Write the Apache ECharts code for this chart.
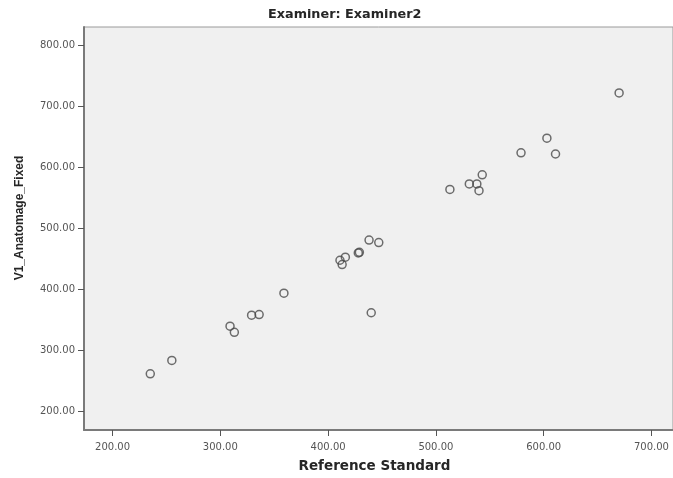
<!DOCTYPE html>
<html>
<head>
<meta charset="utf-8">
<script src="https://cdn.jsdelivr.net/npm/echarts@6/dist/echarts.min.js"></script>
<style>html,body{margin:0;padding:0;background:#fff}#c{width:673px;height:478px}</style>
</head>
<body>
<div id="c"></div>
<script>
const titleText = 'Examiner: Examiner2';
const xName = 'Reference Standard';
const yName = 'V1_Anatomage_Fixed';
const xTicks = [200, 300, 400, 500, 600, 700];
const yTicks = [200, 300, 400, 500, 600, 700, 800];
const refStandard = [235, 255, 309, 313, 329, 336, 359, 440, 411, 416, 413, 428, 429, 438, 447, 513, 531, 538, 543, 540, 579, 603, 611, 670];
const anatomage  = [262, 284, 340, 330, 358, 359, 394, 362, 448, 453, 441, 460, 461, 481, 477, 564, 573, 573, 588, 562, 624, 648, 622, 722];

const points = refStandard.map((v, i) => [v, anatomage[i]]);
const chart = echarts.init(document.getElementById('c'));
const fmt = v => v.toFixed(2);
const FONT = 'DejaVu Sans';
chart.setOption({
  animation: false,
  backgroundColor: '#ffffff',
  title: {
    text: titleText, left: 263, top: 3,
    textStyle: { fontFamily: FONT, fontSize: 12.8, fontWeight: 'bold', color: '#262626' }
  },
  grid: {
    left: 84, right: 0, top: 27, bottom: 45,
    show: true, backgroundColor: '#f0f0f0', borderColor: '#9a9a9a', borderWidth: 1
  },
  xAxis: {
    type: 'value', min: 173.5, max: 720,
    name: xName, nameLocation: 'middle', nameGap: 29,
    nameTextStyle: { fontFamily: FONT, fontSize: 13.5, fontWeight: 'bold', color: '#262626', padding: [0, 8, 0, 0] },
    axisLine: { show: true, lineStyle: { color: '#7a7a7a', width: 2 } },
    axisTick: { show: true, customValues: xTicks, length: 6, lineStyle: { color: '#555', width: 1 } },
    axisLabel: { customValues: xTicks, formatter: fmt, fontFamily: FONT, fontSize: 10, color: '#555', margin: 12 },
    splitLine: { show: false }
  },
  yAxis: {
    type: 'value', min: 170, max: 830,
    axisLine: { show: true, lineStyle: { color: '#7a7a7a', width: 2 } },
    axisTick: { show: true, customValues: yTicks, length: 6, lineStyle: { color: '#555', width: 1 } },
    axisLabel: { customValues: yTicks, formatter: fmt, fontFamily: FONT, fontSize: 10, color: '#555', margin: 9 },
    splitLine: { show: false }
  },
  graphic: [{
    type: 'text', x: 20, y: 218, rotation: Math.PI / 2,
    style: { text: yName, fontFamily: 'Liberation Sans', fontSize: 12, fontWeight: 'bold', fill: '#262626', align: 'center', verticalAlign: 'middle' }
  }],
  series: [{
    type: 'scatter', data: points, symbol: 'circle', symbolSize: 8,
    itemStyle: { color: 'rgba(0,0,0,0)', borderColor: '#4a4a4a', borderWidth: 1.5 }
  }]
});
</script>
</body>
</html>
